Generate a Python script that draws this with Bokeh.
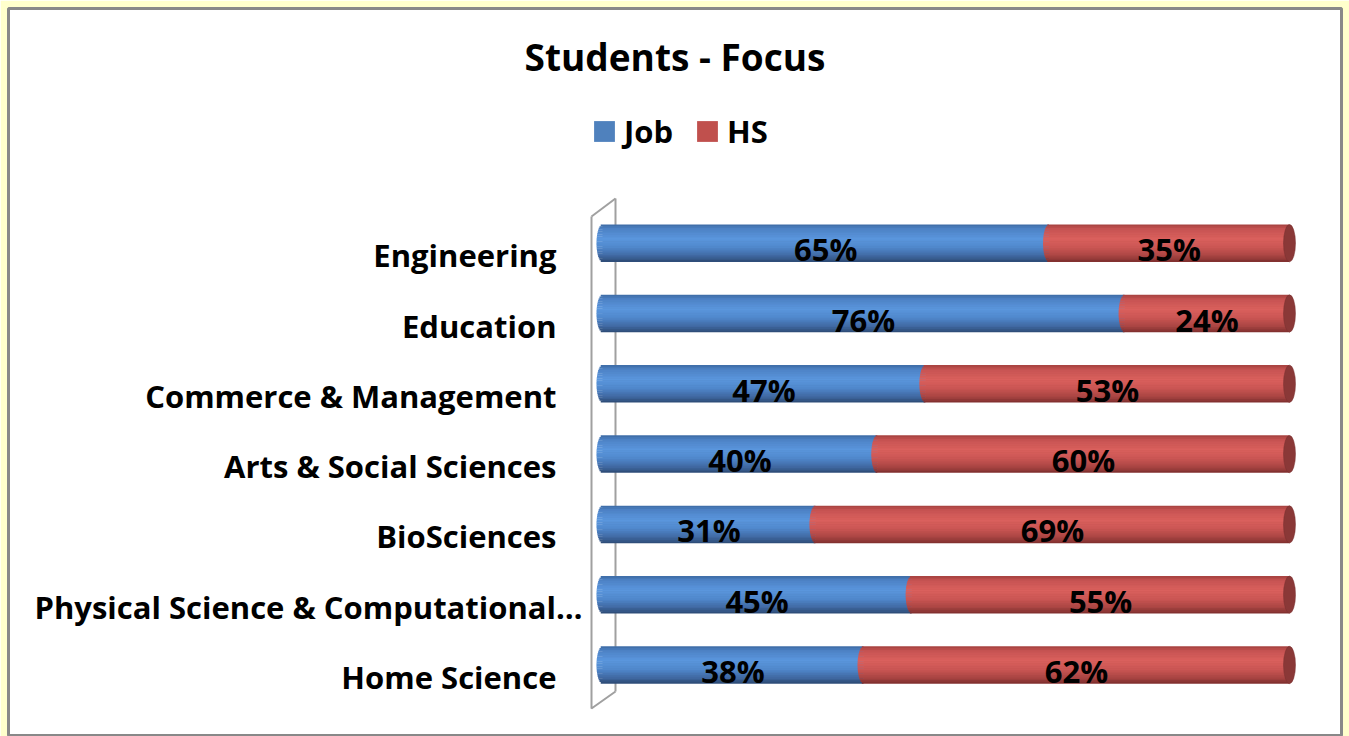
import numpy as np
from bokeh.plotting import figure
from bokeh.models import Range1d, Legend, LegendItem, ColumnDataSource
from bokeh.core.properties import value
from bokeh.embed import file_html
from bokeh.resources import INLINE

# ---------------- data ----------------
categories = ["Engineering", "Education", "Commerce & Management",
              "Arts & Social Sciences", "BioSciences",
              "Physical Science & Computational…", "Home Science"]
job = [65, 76, 47, 40, 31, 45, 38]
hs = [35, 24, 53, 60, 69, 55, 62]
series_names = ["Job", "HS"]
title_text = "Students - Focus"

FONT = "Open Sans"
W, H = 1349, 736

# ---------------- geometry (screen calibration) ----------------
FL, FR, FT, FB = 8, 1341, 8, 736          # frame edges in px
PX0, SX = 602.0, 6.87                     # px of value 0, px per unit
PY0, SY = 664.5, 70.3                     # px of bottom row centre, px per row
xs = -(PX0 - FL) / SX
xe = xs + (FR - FL) / SX
ys = -(FB - PY0) / SY
ye = (PY0 - FT) / SY

p = figure(width=W, height=H, output_backend="svg", toolbar_location=None,
           x_range=Range1d(xs, xe), y_range=Range1d(ys, ye),
           x_axis_location=None, y_axis_location=None, title=None,
           min_border_left=FL, min_border_right=W - FR,
           min_border_top=FT, min_border_bottom=0)
p.grid.visible = False
p.border_fill_color = "#FFFFCC"
p.background_fill_color = "#FFFFFF"
p.outline_line_color = "#888888"
p.outline_line_width = 3

n = len(categories)
ypos = [n - 1 - i for i in range(n)]      # Engineering on top
BAR_H = 0.53
CAP = 6.0 / SX                            # half-width of the end ellipse (data units)

# ---------------- back wall (3D frame) ----------------
def dx(px): return px / SX
ytop = ye - (216 - FT) / SY
ybot = ys + (FB - 708) / SY
p.line(x=[dx(13), dx(13)], y=[ytop + 18 / SY, ybot + 17 / SY], line_color="#A0A0A0", line_width=2)
p.line(x=[dx(-11), dx(-11), dx(13)], y=[ytop, ybot, ybot + 17 / SY], line_color="#A0A0A0", line_width=2)
p.line(x=[dx(-11), dx(13)], y=[ytop, ytop + 18 / SY], line_color="#A0A0A0", line_width=2)

# ---------------- cylinder shading ----------------
def hex2rgb(h):
    h = h.lstrip("#")
    return np.array([int(h[i:i + 2], 16) for i in (0, 2, 4)], dtype=float)

def grad(stops, t):
    ts = [s[0] for s in stops]
    cs = [hex2rgb(s[1]) for s in stops]
    for k in range(len(ts) - 1):
        if ts[k] <= t <= ts[k + 1]:
            f = (t - ts[k]) / (ts[k + 1] - ts[k])
            c = cs[k] * (1 - f) + cs[k + 1] * f
            return "#%02x%02x%02x" % tuple(int(round(v)) for v in c)
    return stops[-1][1]

blue_stops = [(0, "#3D6AA3"), (0.12, "#4D82C6"), (0.38, "#5A96DD"),
              (0.62, "#5088CC"), (0.85, "#3F67A0"), (1, "#2C4A73")]
red_stops = [(0, "#A3403E"), (0.12, "#C65352"), (0.38, "#DA605D"),
             (0.62, "#CB5654"), (0.85, "#A84442"), (1, "#7C2E2D")]
base_cols = ["#4F81BD", "#C0504D"]

starts = [[0] * n, job]
ends = [job, [a + b for a, b in zip(job, hs)]]
stops_list = [blue_stops, red_stops]

NS = 22
legend_renderers = []
for s in range(2):
    src = ColumnDataSource(dict(y=ypos, left=starts[s], right=ends[s]))
    r = p.hbar(y="y", left="left", right="right", height=BAR_H * 0.96,
               source=src, fill_color=base_cols[s], line_color=None)
    legend_renderers.append(r)
    for k in range(NS):
        t = (k + 0.5) / NS
        u = 2 * t - 1
        off = CAP * np.sqrt(max(0.0, 1 - u * u))
        yy = [v + BAR_H / 2 - t * BAR_H for v in ypos]
        lefts = [a - off for a in starts[s]]
        p.hbar(y=yy, left=lefts, right=ends[s], height=BAR_H / NS * 1.15,
               fill_color=grad(stops_list[s], t), line_color=None)

# right end caps
p.ellipse(x=ends[1], y=ypos, width=2 * 6.0, height=BAR_H,
          width_units="screen", height_units="data",
          fill_color="#8A3837", line_color="#7A3130", line_width=0.5)

# ---------------- value labels ----------------
lab_x, lab_y, lab_t = [], [], []
for s, vals in enumerate([job, hs]):
    for i in range(n):
        lab_x.append(starts[s][i] + vals[i] / 2)
        lab_y.append(ypos[i])
        lab_t.append(f"{vals[i]}%")
p.text(x=lab_x, y=lab_y, text=lab_t, text_font=value(FONT), text_font_style="bold",
       text_font_size="31px", text_color="#000000", text_align="center",
       text_baseline="middle", y_offset=6)

# category labels (the truncated one overflows to the right, as in the original)
cat_src = ColumnDataSource(dict(
    x=[-(PX0 - 556) / SX] * n, y=ypos, text=categories,
    xo=[26 if c.endswith("…") else 0 for c in categories]))
p.text(x="x", y="y", text="text", x_offset="xo", source=cat_src, text_font=value(FONT),
       text_font_style="bold", text_font_size="31px", text_color="#000000",
       text_align="right", text_baseline="middle", y_offset=12)

# title
p.text(x=[(xs + xe) / 2], y=[(PY0 - 56) / SY], text=[title_text], text_font=value(FONT),
       text_font_style="bold", text_font_size="37px", text_color="#000000",
       text_align="center", text_baseline="middle")

# legend
legend = Legend(items=[LegendItem(label=series_names[0], renderers=[legend_renderers[0]]),
                       LegendItem(label=series_names[1], renderers=[legend_renderers[1]])],
                orientation="horizontal", location=(591 - FL, FB - 152),
                label_text_font=FONT, label_text_font_style="bold",
                label_text_font_size="31px", label_text_color="#000000",
                glyph_width=26, glyph_height=26,
                label_height=26, label_standoff=7, spacing=21, padding=0, margin=0,
                background_fill_alpha=0, border_line_color=None)
p.add_layout(legend, "center")

open("out.html", "w").write(file_html(p, INLINE))
